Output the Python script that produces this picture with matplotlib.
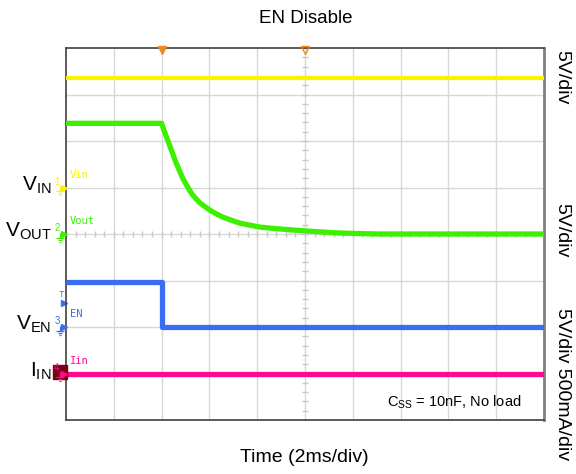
import numpy as np
import matplotlib
matplotlib.use("Agg")
from matplotlib import pyplot as plt
from matplotlib import transforms
from matplotlib.path import Path

plt.rcParams['font.family'] = ['Liberation Sans', 'DejaVu Sans']
plt.rcParams['mathtext.fontset'] = 'custom'
plt.rcParams['mathtext.rm'] = 'Liberation Sans'

# scope setup: 2 ms/div, 10 x 8 divisions, trigger at t = 0
t_min, t_max = -4.0, 16.0
t_center = 6.0

# channel names, offsets (div), scales (units/div), colours
ch_names = ['Vin', 'Vout', 'EN', 'Iin']
ch_labels = [r'$\mathregular{V_{IN}}$', r'$\mathregular{V_{OUT}}$',
             r'$\mathregular{V_{EN}}$', r'$\mathregular{I_{IN}}$']
ch_offset = [1.0, 0.0, -2.0, -3.0]
ch_scale = [5.0, 5.0, 5.0, 0.5]
ch_color = ['#f8f400', '#3cf000', '#3a6ef2', '#ff0a8c']

# traces (t in ms, values in V or A)
vin_t = [-4.0, 16.0]
vin_v = [11.8, 11.8]

vout_t = [-4.0, 0.0, 0.15, 0.33, 0.6, 0.88, 1.1, 1.30, 1.6, 2.01, 2.3, 2.55, 2.9,
          3.26, 3.7, 4.10, 4.6, 5.06, 5.5, 6.07, 6.7, 7.32, 8.2, 9.1, 16.0]
vout_v = [11.9, 11.9, 10.8, 9.57, 7.7, 6.02, 5.0, 4.19, 3.35, 2.58, 2.15, 1.83, 1.5,
          1.18, 0.95, 0.75, 0.62, 0.52, 0.43, 0.32, 0.22, 0.12, 0.05, 0.0, 0.0]

en_t = [-4.0, 0.0, 0.0, 16.0]
en_v = [4.8, 4.8, 0.0, 0.0]

iin_t = [-4.0, 16.0]
iin_v = [0.0, 0.0]

trig_level = 2.6  # V on EN

fig = plt.figure(figsize=(5.76, 4.74), dpi=100)
ax = fig.add_axes([0.1146, 0.1139, 0.8298, 0.7848])
ax.set_xlim(t_min, t_max)
ax.set_ylim(-4, 4)

# grid
for x in np.arange(t_min + 2, t_max, 2):
    ax.axvline(x, color='#d8d8d8', lw=1, zorder=0)
for y in np.arange(-3, 4, 1):
    ax.axhline(y, color='#d8d8d8', lw=1, zorder=0)
# minor ticks on centre lines
ax.plot(np.arange(t_min, t_max + 0.01, 0.4), np.zeros(51), ls='none', marker='|',
        ms=4, color='#c8c8c8', mew=1, zorder=0)
ax.plot(np.full(41, t_center), np.arange(-4, 4.01, 0.2), ls='none', marker='_',
        ms=4, color='#c8c8c8', mew=1, zorder=0)

ax.set_xticks([])
ax.set_yticks([])
for s in ax.spines.values():
    s.set_color('#404040')
    s.set_linewidth(1.2)
ax.spines['right'].set_color('#808080')
ax.spines['right'].set_linewidth(2)

traces = [(vin_t, vin_v), (vout_t, vout_v), (en_t, en_v), (iin_t, iin_v)]
widths = [3.0, 3.8, 3.8, 3.8]
for i, (tt, vv) in enumerate(traces):
    yy = ch_offset[i] + np.array(vv) / ch_scale[i]
    ax.plot(tt, yy, color=ch_color[i], lw=widths[i], solid_capstyle='butt',
            solid_joinstyle='round', zorder=3)

# left-side markers and labels
blend = transforms.blended_transform_factory(ax.transAxes, ax.transData)
gnd = Path([(0, 1.2), (0, 0), (-0.9, 0), (0.9, 0), (-0.55, -0.45), (0.55, -0.45),
            (-0.2, -0.9), (0.2, -0.9)],
           [Path.MOVETO, Path.LINETO, Path.MOVETO, Path.LINETO,
            Path.MOVETO, Path.LINETO, Path.MOVETO, Path.LINETO])
for i in range(4):
    y0 = ch_offset[i]
    c = ch_color[i]
    if i == 3:
        ax.plot(-0.0125, y0 + 0.03, transform=blend, marker='s', ms=10, color='#7a0014',
                clip_on=False, zorder=5)
    ax.plot(-0.005, y0, transform=blend, marker='>', ms=5, color=c, clip_on=False, zorder=6)
    ax.text(-0.019, y0 + 0.02, str(i + 1), transform=blend, color=c, fontsize=7,
            ha='center', va='bottom', clip_on=False, zorder=6)
    ax.plot(-0.013, y0 - 0.08, transform=blend, marker=gnd, ms=7, color=c, mew=0.9,
            fillstyle='none', ls='none', clip_on=False, zorder=6)
    ax.text(-0.03, y0 + 0.05, ch_labels[i], transform=blend, fontsize=15,
            ha='right', va='center', clip_on=False)
    ax.text(0.008, y0 + 0.17, ch_names[i], transform=blend, color=c, fontsize=7.5,
            family='DejaVu Sans Mono', ha='left', va='bottom')

# trigger level marker
ty = ch_offset[2] + trig_level / ch_scale[2]
ax.plot(-0.005, ty, transform=blend, marker='>', ms=5, color=ch_color[2], clip_on=False)
ax.text(-0.009, ty + 0.08, 'T', transform=blend, color=ch_color[2], fontsize=6.5,
        ha='center', va='bottom', clip_on=False)

# trigger position markers on top edge
blend_x = transforms.blended_transform_factory(ax.transData, ax.transAxes)
ax.plot(0.0, 0.995, transform=blend_x, marker='v', ms=6, color='#f08a20', clip_on=False, zorder=6)
ax.plot(t_center, 0.995, transform=blend_x, marker='v', ms=6, color='#f08a20',
        fillstyle='none', mew=1, clip_on=False, zorder=6)

ax.text(0.954, 0.048, r'C$_{\mathregular{SS}}$ = 10nF, No load', transform=ax.transAxes,
        fontsize=10.5, ha='right', va='center')

fig.text(0.53, 0.962, 'EN Disable', fontsize=13.5, ha='center', va='center')
fig.text(0.529, 0.034, 'Time (2ms/div)', fontsize=14, ha='center', va='center')

fig.text(0.976, 0.837, '5V/div', rotation=270, fontsize=14, ha='center', va='center')
fig.text(0.976, 0.515, '5V/div', rotation=270, fontsize=14, ha='center', va='center')
fig.text(0.976, 0.19, '5V/div 500mA/div', rotation=270, fontsize=14, ha='center', va='center')

fig.savefig('out.png', dpi=100)
